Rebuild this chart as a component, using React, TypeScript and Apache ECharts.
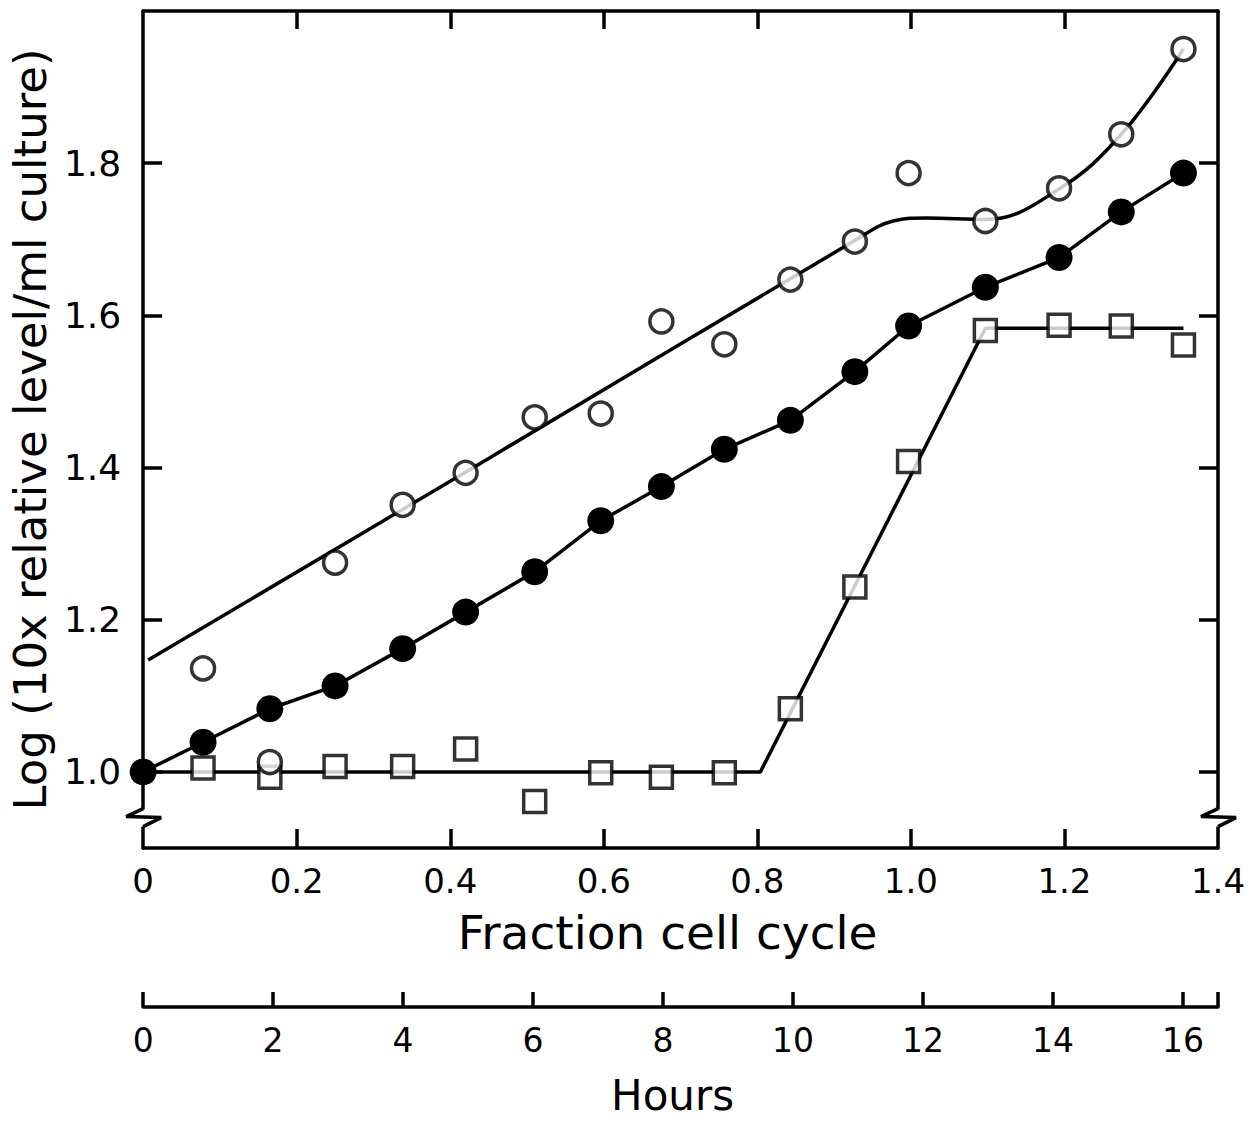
import React, { useEffect, useRef } from 'react';
import * as echarts from 'echarts';

// ---- data ----
const startFraction = 0;
const startLevel = 1.0;
const sampleFraction = [0.078, 0.165, 0.25, 0.338, 0.42, 0.51, 0.596, 0.675, 0.757, 0.843, 0.927, 0.997, 1.097, 1.193, 1.274, 1.355];
const openCircles = [1.136, 1.013, 1.275, 1.351, 1.393, 1.466, 1.471, 1.592, 1.562, 1.647, 1.697, 1.787, 1.724, 1.767, 1.838, 1.95];
const filledCircles = [1.039, 1.083, 1.113, 1.162, 1.21, 1.263, 1.33, 1.375, 1.424, 1.462, 1.526, 1.586, 1.637, 1.676, 1.736, 1.787];
const squares = [1.005, 0.993, 1.007, 1.007, 1.03, 0.961, 0.999, 0.993, 0.999, 1.083, 1.243, 1.408, 1.58, 1.587, 1.586, 1.561];

// hand-drawn fitted curves
const openFitX = [0.0065, 0.45, 0.928, 0.977, 1.02, 1.097, 1.193, 1.274, 1.355];
const openFitY = [1.147, 1.412, 1.699, 1.724, 1.728, 1.726, 1.766, 1.838, 1.95];
const squareFitX = [0, 0.804, 1.097, 1.355];
const squareFitY = [1.0, 1.0, 1.583, 1.583];

// axes
const fractionTicks = [0, 0.2, 0.4, 0.6, 0.8, 1.0, 1.2, 1.4];
const fractionInnerTicks = [0.2, 0.4, 0.6, 0.8, 1.0, 1.2];
const levelTicks = [1.0, 1.2, 1.4, 1.6, 1.8];
const hourTicks = [0, 2, 4, 6, 8, 10, 12, 14, 16];
const hoursMax = 16.54;

const FONT = 'DejaVu Sans';
const BLACK = '#000';
const LW = 3.5;

export default function App() {
  const ref = useRef<HTMLDivElement>(null);

  useEffect(() => {
    const el = ref.current;
    if (!el) return;
    const chart = echarts.init(el, undefined, { renderer: 'svg' });

    const zip = (xs: number[], ys: number[]) => xs.map((x, i) => [x, ys[i]]);

    const axisLine = { show: true, onZero: false, lineStyle: { color: BLACK, width: LW } };
    const tickStyle = { color: BLACK, width: LW };

    chart.setOption({
      animation: false,
      backgroundColor: '#fff',
      grid: { left: 142, right: 31, top: 11, bottom: 272 },
      xAxis: [
        {
          type: 'value', min: 0, max: 1.4, position: 'bottom',
          axisLine,
          splitLine: { show: false },
          axisTick: { show: true, inside: true, length: 19, lineStyle: tickStyle, customValues: fractionInnerTicks },
          axisLabel: {
            show: true, customValues: fractionTicks, margin: 16,
            formatter: (v: number) => (v === 0 ? '0' : v.toFixed(1)),
            fontFamily: FONT, fontSize: 34, color: BLACK,
          },
          name: 'Fraction cell cycle', nameLocation: 'middle', nameGap: 61,
          nameTextStyle: { fontFamily: FONT, fontSize: 47, color: BLACK, padding: [0, 26, 0, 0] },
        },
        {
          type: 'value', min: 0, max: 1.4, position: 'top',
          axisLine,
          splitLine: { show: false },
          axisTick: { show: true, inside: true, length: 18, lineStyle: tickStyle, customValues: fractionInnerTicks },
          axisLabel: { show: false },
        },
        {
          type: 'value', min: 0, max: hoursMax, position: 'bottom', offset: 159,
          axisLine,
          splitLine: { show: false },
          axisTick: { show: true, inside: true, length: 15, lineStyle: tickStyle, customValues: [...hourTicks, hoursMax] },
          axisLabel: {
            show: true, customValues: hourTicks, margin: 17,
            formatter: (v: number) => String(v),
            fontFamily: FONT, fontSize: 33, color: BLACK,
          },
          name: 'Hours', nameLocation: 'middle', nameGap: 67,
          nameTextStyle: { fontFamily: FONT, fontSize: 42, color: BLACK, padding: [0, 16, 0, 0] },
        },
      ],
      yAxis: [
        {
          type: 'value', min: 0.9, max: 2.0, position: 'left',
          axisLine,
          splitLine: { show: false },
          axisTick: { show: true, inside: true, length: 19, lineStyle: tickStyle, customValues: levelTicks },
          axisLabel: {
            show: true, customValues: levelTicks, margin: 22,
            formatter: (v: number) => v.toFixed(1),
            fontFamily: FONT, fontSize: 36, color: BLACK,
          },
          name: 'Log (10x relative level/ml culture)', nameLocation: 'middle', nameGap: 78,
          nameTextStyle: { fontFamily: FONT, fontSize: 45, color: BLACK },
        },
        {
          type: 'value', min: 0.9, max: 2.0, position: 'right',
          axisLine,
          splitLine: { show: false },
          axisTick: { show: true, inside: true, length: 19, lineStyle: tickStyle, customValues: levelTicks },
          axisLabel: { show: false },
        },
      ],
      series: [
        {
          name: 'Open fit', type: 'line', xAxisIndex: 0, yAxisIndex: 0,
          data: zip(openFitX, openFitY), smooth: 0.4, showSymbol: false, symbol: 'none',
          lineStyle: { color: BLACK, width: LW }, z: 2, silent: true,
        },
        {
          name: 'Square fit', type: 'line', xAxisIndex: 0, yAxisIndex: 0,
          data: zip(squareFitX, squareFitY), showSymbol: false, symbol: 'none',
          lineStyle: { color: BLACK, width: LW }, z: 2, silent: true,
        },
        {
          name: 'Squares', type: 'scatter', xAxisIndex: 0, yAxisIndex: 0,
          data: zip(sampleFraction, squares), symbol: 'rect', symbolSize: 22,
          itemStyle: { color: '#fff', borderColor: BLACK, borderWidth: LW }, z: 3,
        },
        {
          name: 'Filled circles', type: 'line', xAxisIndex: 0, yAxisIndex: 0,
          data: [[startFraction, startLevel], ...zip(sampleFraction, filledCircles)],
          symbol: 'circle', symbolSize: 27, showSymbol: true,
          itemStyle: { color: BLACK, borderColor: BLACK, borderWidth: 0 },
          lineStyle: { color: BLACK, width: LW }, z: 4,
        },
        {
          name: 'Open circles', type: 'scatter', xAxisIndex: 0, yAxisIndex: 0,
          data: zip(sampleFraction, openCircles), symbol: 'circle', symbolSize: 23,
          itemStyle: { color: '#fff', borderColor: BLACK, borderWidth: LW }, z: 5,
        },
      ],
    });

    // axis-break zigzags on both vertical axes
    const breakVal = 0.94;
    const [xl, yb] = chart.convertToPixel({ xAxisIndex: 0, yAxisIndex: 0 }, [0, breakVal]) as number[];
    const [xr] = chart.convertToPixel({ xAxisIndex: 0, yAxisIndex: 0 }, [1.4, breakVal]) as number[];
    const zig = (x: number) => [
      { type: 'rect', shape: { x: x - 4, y: yb - 8, width: 8, height: 17 }, style: { fill: '#fff' }, z: 10 },
      {
        type: 'polyline', z: 11,
        shape: { points: [[x, yb - 9], [x - 17, yb - 1], [x + 18, yb], [x, yb + 9]] },
        style: { stroke: BLACK, lineWidth: LW, fill: 'none' },
      },
    ];
    chart.setOption({ graphic: [...zig(xl), ...zig(xr)] });

    return () => chart.dispose();
  }, []);

  return <div ref={ref} style={{ position: 'absolute', left: 0, top: 0, width: 1249, height: 1121 }} />;
}
